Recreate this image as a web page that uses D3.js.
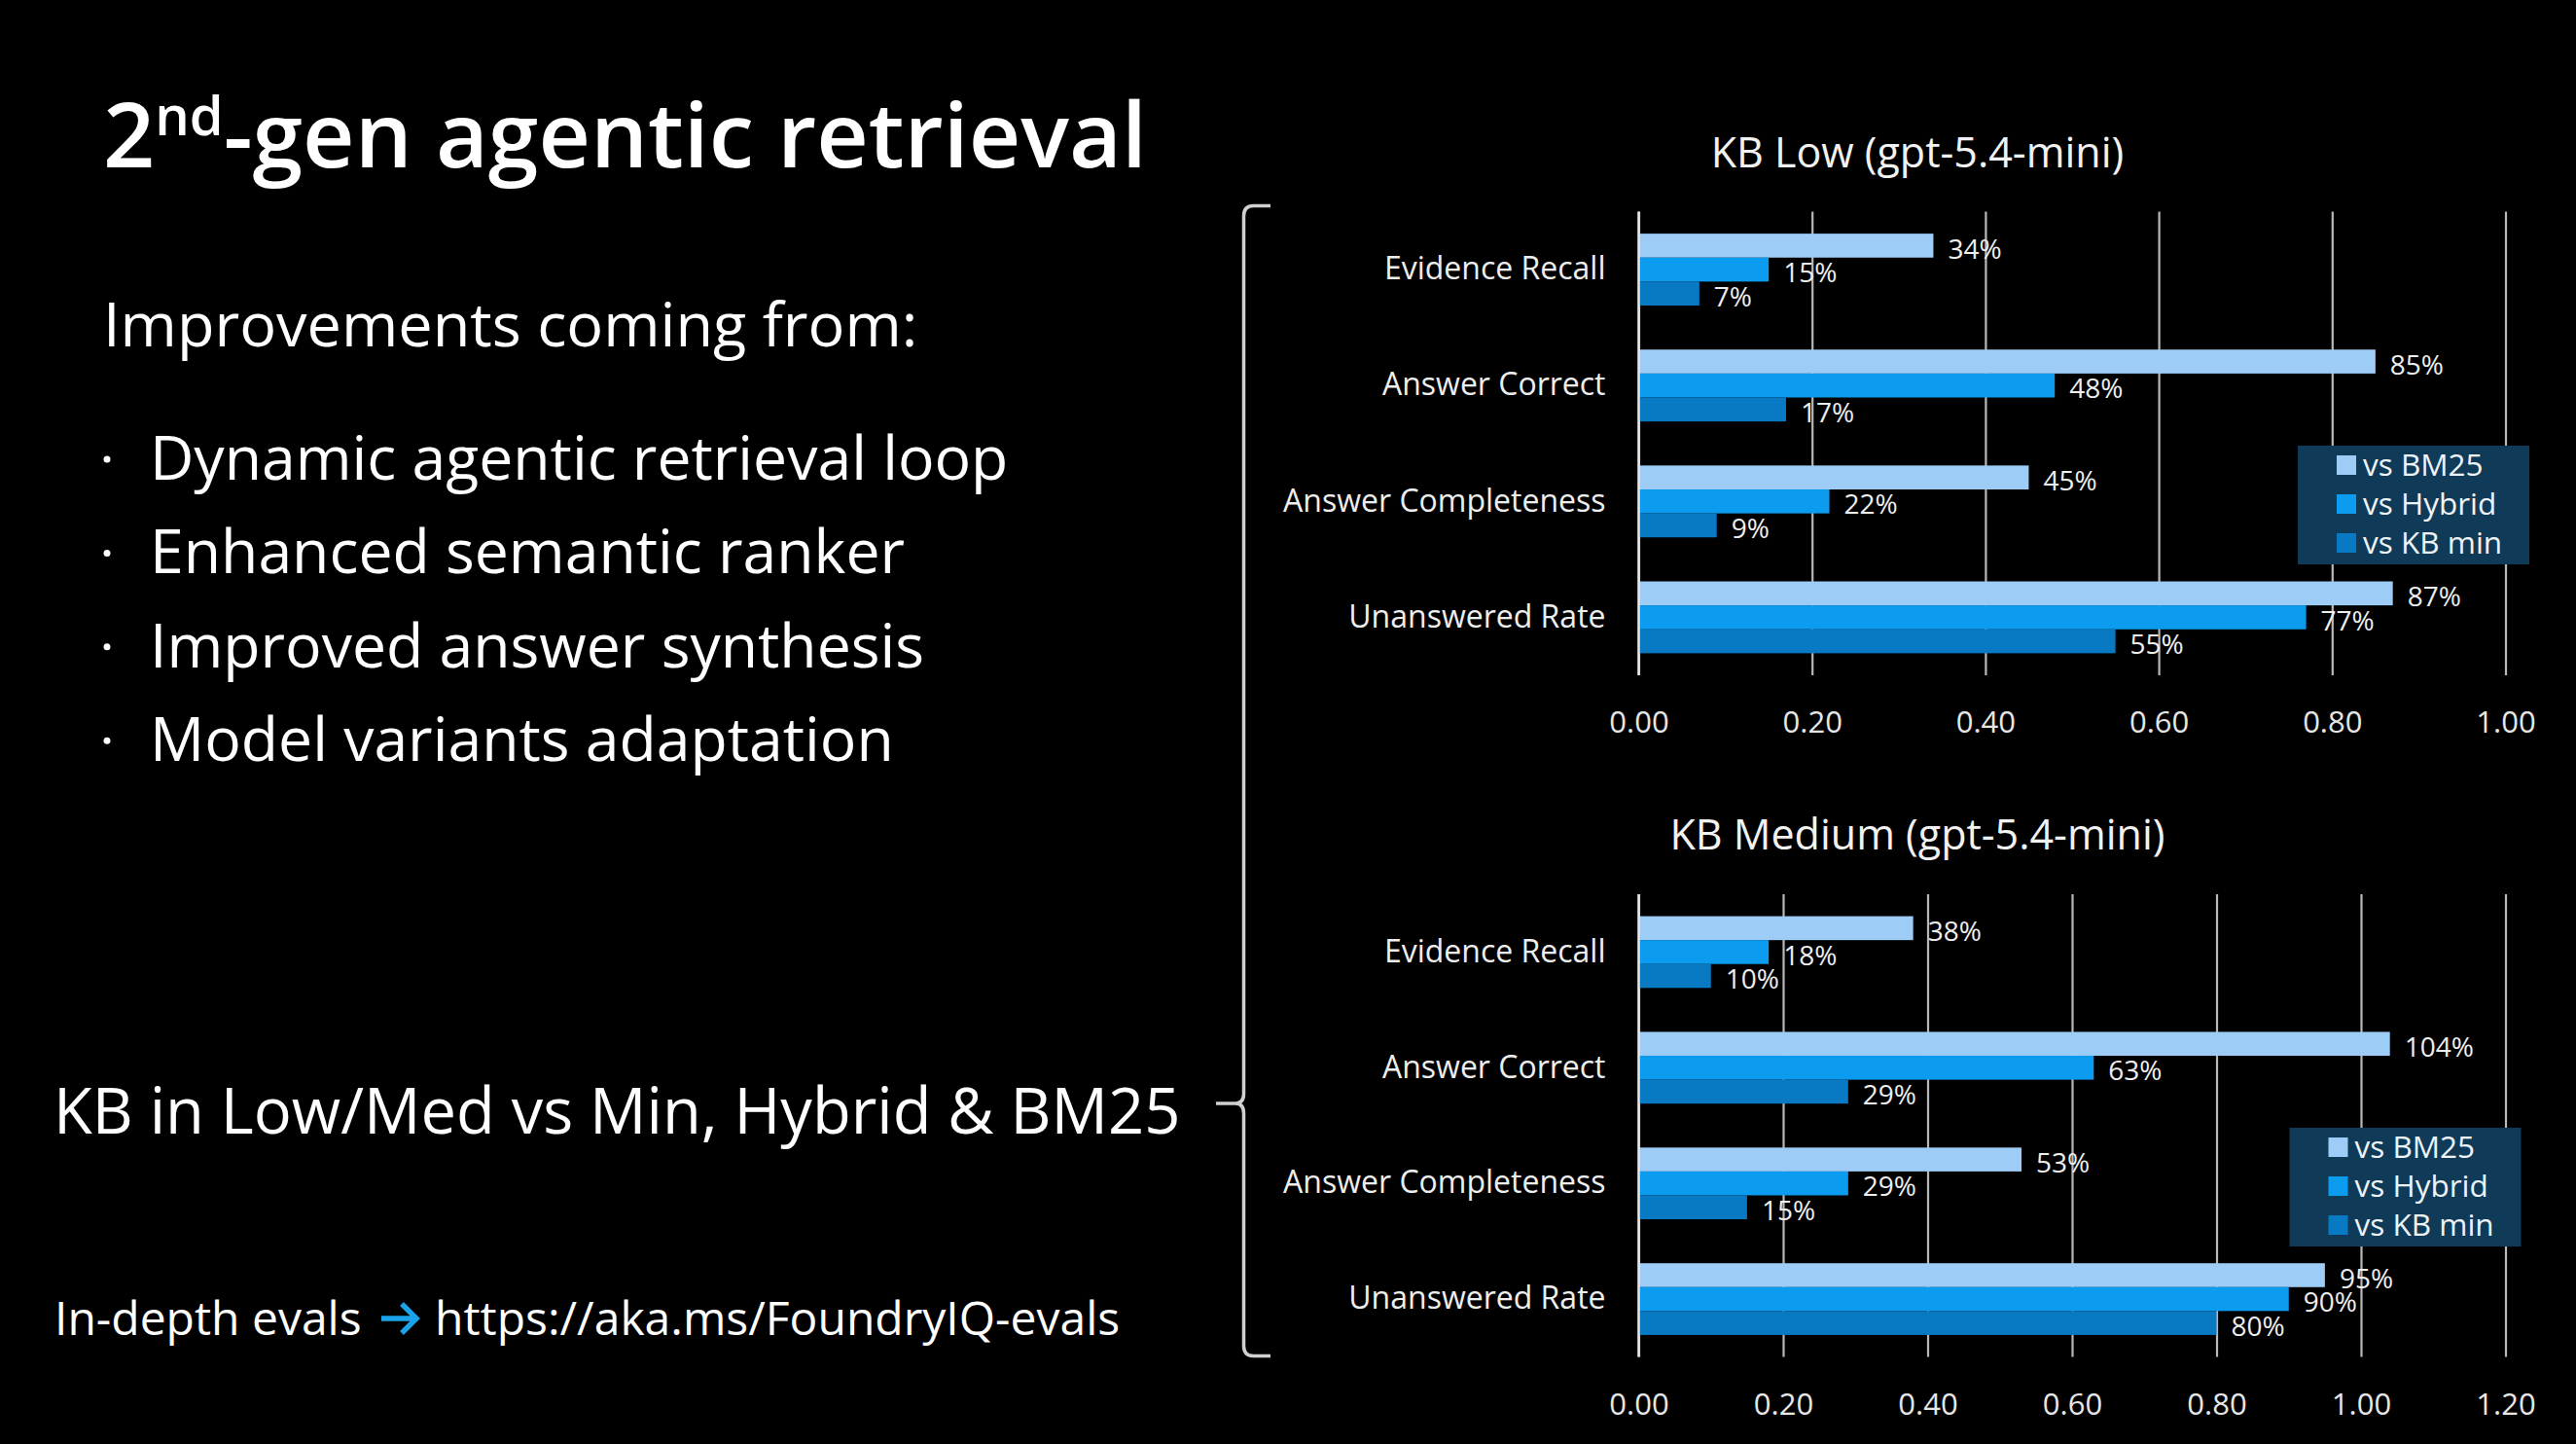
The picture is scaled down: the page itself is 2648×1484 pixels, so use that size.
<!DOCTYPE html>
<html>
<head>
<meta charset="utf-8">
<script src="https://cdn.jsdelivr.net/npm/d3@7"></script>
<style>
  html, body { margin: 0; padding: 0; background: #000; }
  svg { display: block; font-family: "Open Sans", "Noto Sans", sans-serif; }
</style>
</head>
<body>
<div id="slide"></div>
<script>
// data
var categories = ["Evidence Recall", "Answer Correct", "Answer Completeness", "Unanswered Rate"];
var seriesNames = ["vs BM25", "vs Hybrid", "vs KB min"];
var seriesColors = ["#9dcdf6", "#0c9cef", "#0879c3"];

var lowBM25   = [0.34, 0.85, 0.45, 0.87];
var lowHybrid = [0.15, 0.48, 0.22, 0.77];
var lowKBmin  = [0.07, 0.17, 0.09, 0.55];

var medBM25   = [0.38, 1.04, 0.53, 0.95];
var medHybrid = [0.18, 0.63, 0.29, 0.90];
var medKBmin  = [0.10, 0.29, 0.15, 0.80];

var lowTicks = [0, 0.2, 0.4, 0.6, 0.8, 1.0];
var medTicks = [0, 0.2, 0.4, 0.6, 0.8, 1.0, 1.2];

var bullets = ["Dynamic agentic retrieval loop", "Enhanced semantic ranker",
               "Improved answer synthesis", "Model variants adaptation"];

var W = 2648, H = 1484;
var svg = d3.select("#slide").append("svg").attr("width", W).attr("height", H);
svg.append("rect").attr("width", W).attr("height", H).attr("fill", "#000");

// ---- left side text
var title = svg.append("text").attr("x", 106).attr("y", 172)
    .attr("fill", "#fff").attr("font-size", 93).attr("font-weight", 600);
title.append("tspan").text("2");
title.append("tspan").attr("font-size", 56).attr("dy", -33).text("nd");
title.append("tspan").attr("dy", 33).text("-gen agentic retrieval");

svg.append("text").attr("x", 106).attr("y", 356).attr("fill", "#fff")
    .attr("font-size", 63).text("Improvements coming from:");

var bl = svg.append("g");
bullets.forEach(function (b, i) {
  var y = 493 + i * 96.4;
  bl.append("circle").attr("cx", 110).attr("cy", y - 21).attr("r", 3.5).attr("fill", "#fff");
  bl.append("text").attr("x", 154).attr("y", y).attr("fill", "#fff")
    .attr("font-size", 62.5).text(b);
});

svg.append("text").attr("x", 55).attr("y", 1165).attr("fill", "#fff")
    .attr("font-size", 65).text("KB in Low/Med vs Min, Hybrid & BM25");

svg.append("text").attr("x", 56).attr("y", 1372).attr("fill", "#fff")
    .attr("font-size", 48).text("In-depth evals");
svg.append("text").attr("x", 447).attr("y", 1372).attr("fill", "#fff")
    .attr("font-size", 48).text("https://aka.ms/FoundryIQ-evals");
var arrow = d3.path();
arrow.moveTo(392, 1355); arrow.lineTo(427, 1355);
arrow.moveTo(413, 1340); arrow.lineTo(428, 1355); arrow.lineTo(413, 1370);
svg.append("path").attr("d", arrow.toString()).attr("fill", "none")
    .attr("stroke", "#1aa3e8").attr("stroke-width", 5.5).attr("stroke-linejoin", "miter");

// ---- brace
var bx = 1278.5;
var brace = d3.path();
brace.moveTo(1306, 211.5);
brace.lineTo(bx + 10, 211.5);
brace.quadraticCurveTo(bx, 211.5, bx, 222);
brace.lineTo(bx, 1124);
brace.quadraticCurveTo(bx, 1134, bx - 9, 1134);
brace.lineTo(1250, 1134);
brace.moveTo(bx - 9, 1134);
brace.quadraticCurveTo(bx, 1134, bx, 1144);
brace.lineTo(bx, 1383);
brace.quadraticCurveTo(bx, 1393.5, bx + 10, 1393.5);
brace.lineTo(1306, 1393.5);
svg.append("path").attr("d", brace.toString()).attr("fill", "none")
    .attr("stroke", "#d0d0d0").attr("stroke-width", 3.5);

// ---- charts
var charts = [
  { title: "KB Low (gpt-5.4-mini)", top: 217.5, bottom: 694, max: 1.0, ticks: lowTicks,
    values: [lowBM25, lowHybrid, lowKBmin], titleY: 172, legendX: 2362, legendY: 458 },
  { title: "KB Medium (gpt-5.4-mini)", top: 919, bottom: 1394.5, max: 1.2, ticks: medTicks,
    values: [medBM25, medHybrid, medKBmin], titleY: 873, legendX: 2353.5, legendY: 1159 }
];

var x0 = 1684.5, x1 = 2575.5;
var fmt = d3.format(".2f");

charts.forEach(function (c) {
  var g = svg.append("g");
  var x = d3.scaleLinear().domain([0, c.max]).range([x0, x1]);
  var y = d3.scaleBand().domain(categories).range([c.top, c.bottom])
      .paddingInner(0.38).paddingOuter(0.19);
  var ys = d3.scaleBand().domain(seriesNames).range([0, y.bandwidth()]);

  g.append("text").attr("x", 1971).attr("y", c.titleY).attr("text-anchor", "middle")
    .attr("fill", "#f2f2f2").attr("font-size", 43).text(c.title);

  var xa = g.append("g").attr("transform", "translate(0," + c.bottom + ")")
    .call(d3.axisBottom(x).tickValues(c.ticks).tickFormat(fmt)
      .tickSize(-(c.bottom - c.top)).tickPadding(37));
  xa.select(".domain").remove();
  xa.selectAll(".tick line").attr("stroke", "#b8b8b8").attr("stroke-width", 2.2);
  xa.selectAll(".tick text").attr("fill", "#e6e6e6").attr("font-size", 31)
    .attr("font-family", "Open Sans, sans-serif");

  var ya = g.append("g").attr("transform", "translate(" + x0 + ",0)")
    .call(d3.axisLeft(y).tickSize(0).tickPadding(34));
  ya.select(".domain").remove();
  ya.selectAll(".tick text").attr("fill", "#eeeeee").attr("font-size", 32)
    .attr("font-family", "Open Sans, sans-serif");

  var rows = [];
  categories.forEach(function (cat, ci) {
    seriesNames.forEach(function (s, si) {
      rows.push({ cat: cat, s: s, si: si, v: c.values[si][ci] });
    });
  });

  g.selectAll("rect.bar").data(rows).enter().append("rect").attr("class", "bar")
    .attr("x", x(0))
    .attr("y", function (d) { return y(d.cat) + ys(d.s); })
    .attr("width", function (d) { return x(d.v) - x(0); })
    .attr("height", ys.bandwidth())
    .attr("fill", function (d) { return seriesColors[d.si]; });

  g.selectAll("text.lbl").data(rows).enter().append("text").attr("class", "lbl")
    .attr("x", function (d) { return x(d.v) + 15; })
    .attr("y", function (d) { return y(d.cat) + ys(d.s) + ys.bandwidth() / 2 + 3; })
    .attr("dy", "0.36em").attr("fill", "#eeeeee").attr("font-size", 28)
    .text(function (d) { return Math.round(d.v * 100) + "%"; });

  // zero axis line on top
  g.append("line").attr("x1", x(0)).attr("x2", x(0)).attr("y1", c.top).attr("y2", c.bottom)
    .attr("stroke", "#e8e8e8").attr("stroke-width", 2.5);

  var lg = g.append("g").attr("transform", "translate(" + c.legendX + "," + c.legendY + ")");
  lg.append("rect").attr("width", 238).attr("height", 122).attr("fill", "#0f3b59");
  seriesNames.forEach(function (s, i) {
    var cy = 20 + i * 40;
    lg.append("rect").attr("x", 40).attr("y", cy - 10).attr("width", 20).attr("height", 20)
      .attr("fill", seriesColors[i]);
    lg.append("text").attr("x", 67).attr("y", cy).attr("dy", "0.36em")
      .attr("fill", "#eef3f7").attr("font-size", 31.5).text(s);
  });
});
</script>
</body>
</html>
